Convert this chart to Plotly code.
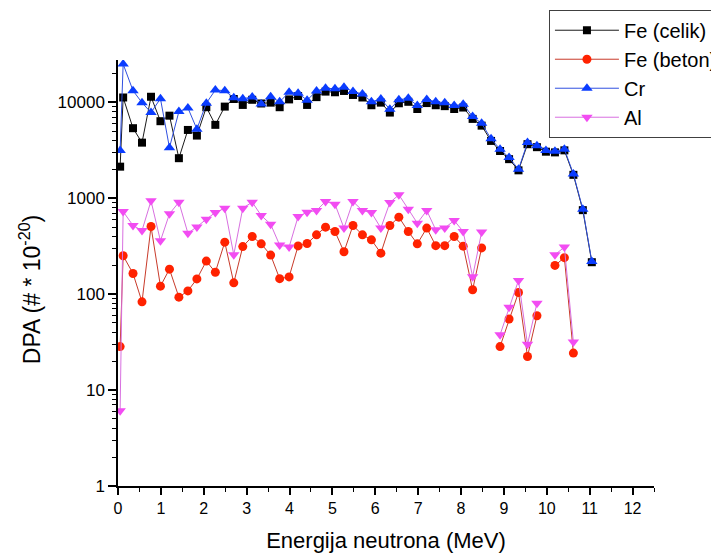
import plotly.graph_objects as go

# Neutron energy (MeV) of each sample
energy = [0.05, 0.12, 0.35, 0.56, 0.77, 0.99, 1.20, 1.42, 1.63, 1.84,
          2.06, 2.27, 2.49, 2.70, 2.91, 3.13, 3.34, 3.56, 3.77, 3.99,
          4.20, 4.41, 4.63, 4.84, 5.06, 5.27, 5.48, 5.70, 5.91, 6.13,
          6.34, 6.55, 6.77, 6.98, 7.20, 7.41, 7.62, 7.84, 8.05, 8.27,
          8.48, 8.70, 8.91, 9.12, 9.34, 9.55, 9.77, 9.98, 10.19, 10.41,
          10.62, 10.84, 11.05]

fe_celik = [2130, 11200, 5360, 3790, 11400, 6340, 7240, 2610, 5140, 4490,
            8870, 5810, 9000, 10800, 9370, 10600, 9700, 9900, 8870, 10700,
            11600, 9370, 11300, 12900, 12700, 13100, 11900, 11200, 9300, 9900,
            7800, 9750, 10100, 8500, 9800, 9300, 9100, 8500, 8800, 6700,
            5700, 3950, 3100, 2550, 1950, 3650, 3400, 3050, 3000, 3150,
            1750, 750, 215]

fe_beton = [28.4, 251, 164, 83, 506, 121, 182, 93, 108, 144,
            221, 169, 348, 131, 313, 398, 334, 255, 145, 151,
            318, 337, 415, 499, 449, 276, 519, 415, 368, 267,
            519, 634, 449, 334, 488, 320, 320, 398, 316, 111,
            303, None, 28.4, 55, 104, 22.4, 59.5, None, 199, 240,
            24.3, None, None]

cr = [3130, 25000, 13200, 9900, 7800, 10900, 3360, 7980, 8730, 5240,
      9770, 13400, 13200, 11100, 10900, 11300, 9600, 11400, 10100, 12700,
      12400, 10500, 13100, 14000, 13800, 14300, 12900, 12200, 10100, 10800,
      8450, 10600, 11000, 9220, 10700, 10100, 9900, 9220, 9530, 7080,
      6040, 4150, 3240, 2650, 2000, 3800, 3510, 3130, 3090, 3240,
      1790, 768, 219]

al = [6.1, 725, 519, 460, 937, 359, 686, 908, 432, 502,
      604, 708, 787, 257, 787, 908, 659, 535, 324, 309,
      643, 714, 743, 923, 866, 488, 923, 743, 708, 488,
      900, 1083, 768, 549, 743, 468, 488, 585, 449, 152,
      443, None, 37.7, 73, 139, 30, 80.5, None, 257, 309,
      31.6, None, None]

series_names = ["Fe (celik)", "Fe (beton)", "Cr", "Al"]
x_ticks = list(range(0, 13))
y_ticks = [1, 10, 100, 1000, 10000]

FONT = "Liberation Sans, Arial, sans-serif"

styles = [
    dict(values=fe_celik, line="#1a1a1a", marker="#000000", symbol="square", size=8),
    dict(values=fe_beton, line="#c83a2a", marker="#ff2200", symbol="circle", size=9),
    dict(values=cr, line="#3050e0", marker="#0a3cff", symbol="triangle-up", size=10),
    dict(values=al, line="#d870e0", marker="#f24cf2", symbol="triangle-down", size=10),
]

fig = go.Figure()
for name, st in zip(series_names, styles):
    fig.add_trace(go.Scatter(
        x=energy, y=st["values"], name=name, mode="lines+markers",
        connectgaps=False,
        line=dict(color=st["line"], width=1),
        marker=dict(symbol=st["symbol"], size=st["size"], color=st["marker"],
                    line=dict(width=0)),
    ))

# the page body adds an 8 px offset, so the figure is 8 px smaller on each axis
fig.update_layout(
    width=711, height=548,
    margin=dict(l=110, r=65, t=52, b=70, autoexpand=False),
    paper_bgcolor="white", plot_bgcolor="white",
    font=dict(family=FONT, color="black", size=16),
    showlegend=True,
    legend=dict(
        x=0.804, y=1.118, xanchor="left", yanchor="top",
        bordercolor="#404040", borderwidth=1, bgcolor="white",
        font=dict(family=FONT, size=20, color="black"),
        itemwidth=64, tracegroupgap=0,
    ),
    xaxis=dict(
        range=[0, 12.5], tickvals=x_ticks, ticktext=[str(v) for v in x_ticks],
        showgrid=False, zeroline=False, showline=True, linecolor="black", linewidth=1.5,
        ticks="outside", ticklen=7, tickwidth=1.5, tickcolor="black",
        minor=dict(dtick=0.5, ticks="outside", ticklen=4, tickwidth=1, tickcolor="black", showgrid=False),
        tickfont=dict(size=16),
        title=dict(text="Energija neutrona (MeV)", font=dict(size=22), standoff=17),
    ),
    yaxis=dict(
        type="log", range=[0, 4.44], tickvals=y_ticks, ticktext=[str(v) for v in y_ticks],
        showgrid=False, zeroline=False, showline=True, linecolor="black", linewidth=1.5,
        ticks="outside", ticklen=8, tickwidth=1.5, tickcolor="black",
        minor=dict(dtick="D1", ticks="outside", ticklen=4, tickwidth=1, tickcolor="black", showgrid=False),
        tickfont=dict(size=17),
    ),
    annotations=[dict(
        text="DPA (# * 10<sup>-20</sup>)", textangle=-90,
        xref="paper", yref="paper", x=-0.164, y=0.46, xanchor="center", yanchor="middle",
        showarrow=False, font=dict(family=FONT, size=23, color="black"),
    )],
)

fig.write_html("out.html")
